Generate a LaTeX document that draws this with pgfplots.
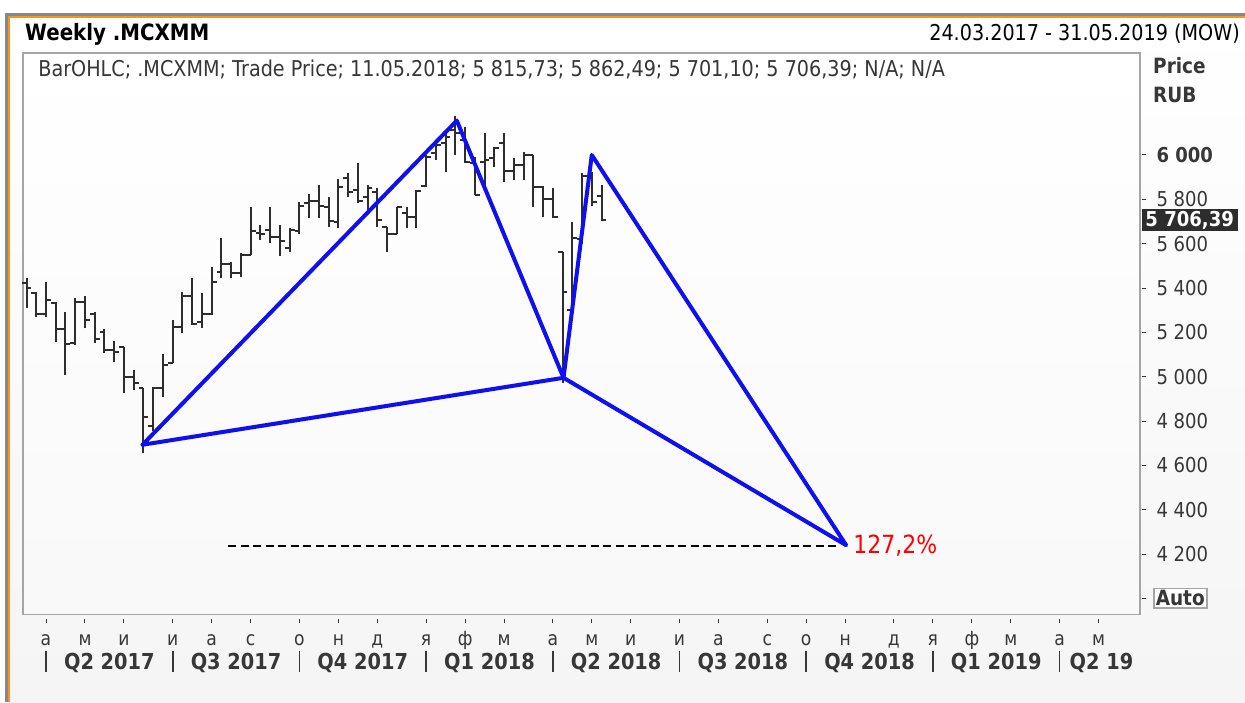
\documentclass[border=0pt]{standalone}
\usepackage{pgfplots}
\pgfplotsset{compat=1.18}
\usepackage{pgfplotstable}
\usepackage{fontspec}
\setmainfont{DejaVu Sans}[FakeStretch=0.88]
\definecolor{frameorange}{RGB}{247,148,29}
\definecolor{framegray}{RGB}{135,135,135}
\definecolor{barcol}{RGB}{45,45,45}
\definecolor{boxgray}{RGB}{165,165,165}
\definecolor{labcol}{RGB}{55,55,55}
\definecolor{patblue}{RGB}{15,15,240}
\tikzset{
  qlab/.style={anchor=base,inner sep=0pt,font=\bfseries\fontsize{22}{26}\selectfont,text=labcol,yshift=-54.5pt},
  qsep/.style={labcol,line width=1.6pt},
}

\pgfplotstableread{
w o h l c
0 5421 5444 5308 5401
1 5379 5383 5270 5283
2 5283 5429 5270 5346
3 5331 5338 5158 5213
4 5213 5293 5007 5147
5 5150 5353 5145 5338
6 5338 5364 5218 5256
7 5285 5293 5150 5168
8 5203 5213 5108 5120
9 5120 5162 5068 5113
10 5135 5135 4928 5000
11 5000 5030 4940 4970
12 4947 4947 4654 4820
13 4778 4952 4757 4947
14 4947 5102 4910 5053
15 5060 5256 5060 5226
16 5226 5383 5195 5364
17 5364 5444 5233 5238
18 5248 5376 5218 5283
19 5283 5496 5278 5429
20 5473 5627 5444 5508
21 5508 5518 5444 5466
22 5466 5556 5451 5549
23 5549 5764 5549 5658
24 5647 5684 5616 5644
25 5662 5764 5601 5632
26 5632 5684 5544 5613
27 5579 5669 5564 5662
28 5658 5789 5644 5770
29 5782 5824 5714 5794
30 5794 5865 5718 5770
31 5767 5812 5674 5702
32 5699 5890 5669 5857
33 5895 5917 5812 5835
34 5842 5965 5782 5794
35 5812 5865 5749 5850
36 5835 5850 5674 5707
37 5674 5677 5564 5644
38 5644 5767 5644 5764
39 5740 5767 5669 5720
40 5722 5842 5669 5839
41 5860 6000 5854 5990
42 6007 6060 5977 6045
43 6053 6098 5925 6083
44 6113 6176 6000 6098
45 6068 6125 5962 5970
46 5962 5990 5820 5820
47 5970 6098 5854 5977
48 5985 6038 5947 6030
49 6053 6098 5880 5929
50 5929 5985 5887 5955
51 5955 6015 5887 6000
52 6000 6000 5767 5854
53 5854 5858 5722 5800
54 5800 5850 5714 5722
55 5564 5564 4970 5380
56 5301 5699 5301 5624
57 5620 5917 5600 5905
58 5905 5925 5770 5789
59 5815.73 5862.49 5701.10 5706.39
}\ohlc

\begin{document}
\begin{tikzpicture}[x=1pt,y=1pt]
\path[use as bounding box] (0,0) rectangle (1245,702);
\fill[white] (0,0) rectangle (1245,702);
\shade[top color=white,bottom color=gray!8] (9.5,0) rectangle (1245,685.5);
\draw[framegray,line width=3pt] (6.5,0) -- (6.5,687.8) -- (1245,687.8);
\draw[frameorange,line width=2pt] (9.3,0) -- (9.3,685.3) -- (1245,685.3);

\node[anchor=base west,inner sep=0pt,font=\bfseries\fontsize{22.5}{26}\selectfont] at (25,661) {Weekly .MCXMM};
\node[anchor=base east,inner sep=0pt,font=\fontsize{21.8}{26}\selectfont] at (1240,661) {24.03.2017 - 31.05.2019 (MOW)};
\node[anchor=base west,inner sep=0pt,font=\bfseries\fontsize{21}{25}\selectfont,text=labcol] at (1153,628) {Price};
\node[anchor=base west,inner sep=0pt,font=\bfseries\fontsize{21}{25}\selectfont,text=labcol] at (1153,599) {RUB};

\begin{axis}[
  name=ax,
  at={(23pt,87.5pt)}, anchor=south west,
  scale only axis, width=1117pt, height=561.5pt,
  xmin=-0.36, xmax=114.25, ymin=3927.4, ymax=6460,
  clip=false,
  axis background/.style={top color=white,bottom color=gray!5},
  axis line style={boxgray,line width=1.5pt},
  tick align=outside,
  major tick length=4pt,
  xtick pos=bottom, ytick pos=right, yticklabel pos=right,
  xtick={2,6,10,15,19,23,28,32,36,41,45,49,54,58,62,67,71,76,80,84,89,93,97,101,106,110},
  xticklabels={а,м,и,и,а,с,о,н,д,я,ф,м,а,м,и,и,а,с,о,н,д,я,ф,м,а,м},
  x tick style={labcol,line width=1pt,yshift=-4pt},
  xticklabel style={font=\fontsize{19.5}{22}\selectfont,text=labcol,anchor=base,text height=10pt,text depth=4pt,yshift=-27pt},
  ytick={4000,4200,4400,4600,4800,5000,5200,5400,5600,5800,6000},
  yticklabels={,4 200,4 400,4 600,4 800,5 000,5 200,5 400,5 600,5 800,\textbf{6 000}},
  y tick style={labcol,line width=1pt,xshift=2pt},
  yticklabel style={font=\fontsize{20.5}{24}\selectfont,text=labcol,anchor=west,xshift=9pt},
]
% OHLC bars
\addplot[barcol,line width=2pt,-,quiver={u=0,v=\thisrow{h}-\thisrow{l}}] table[x=w,y=l] {\ohlc};
\addplot[barcol,line width=2pt,-,quiver={u=-0.5,v=0}] table[x=w,y=o] {\ohlc};
\addplot[barcol,line width=2pt,-,quiver={u=0.5,v=0}] table[x=w,y=c] {\ohlc};
% harmonic pattern
\addplot[patblue,line width=4pt,line join=round,line cap=round] coordinates {(11.9,4693) (44.15,6155) (55.1,4995) (58,6000) (84.1,4240) (55.1,4995) (11.9,4693)};
% 127.2% level
\addplot[black,line width=1.3pt,dash pattern=on 8pt off 4.5pt] coordinates {(20.7,4237) (83.4,4237)};
\node[anchor=west,text=red,font=\fontsize{25}{29}\selectfont,inner sep=0pt] at (axis cs:84.1,4237) [xshift=7pt] {127,2\%};
% legend line
\node[anchor=base west,inner sep=0pt,font=\fontsize{21.8}{26}\selectfont,text=labcol] at (axis cs:1.2,6460) [yshift=-24pt] {BarOHLC; .MCXMM; Trade Price; 11.05.2018; 5 815,73; 5 862,49; 5 701,10; 5 706,39; N/A; N/A};
% quarter separators and labels
\draw[qsep] ([yshift=-36pt]axis cs:2,3927.4) -- ([yshift=-57pt]axis cs:2,3927.4);
\draw[qsep] ([yshift=-36pt]axis cs:15,3927.4) -- ([yshift=-57pt]axis cs:15,3927.4);
\draw[qsep] ([yshift=-36pt]axis cs:28,3927.4) -- ([yshift=-57pt]axis cs:28,3927.4);
\draw[qsep] ([yshift=-36pt]axis cs:41,3927.4) -- ([yshift=-57pt]axis cs:41,3927.4);
\draw[qsep] ([yshift=-36pt]axis cs:54,3927.4) -- ([yshift=-57pt]axis cs:54,3927.4);
\draw[qsep] ([yshift=-36pt]axis cs:67,3927.4) -- ([yshift=-57pt]axis cs:67,3927.4);
\draw[qsep] ([yshift=-36pt]axis cs:80,3927.4) -- ([yshift=-57pt]axis cs:80,3927.4);
\draw[qsep] ([yshift=-36pt]axis cs:93,3927.4) -- ([yshift=-57pt]axis cs:93,3927.4);
\draw[qsep] ([yshift=-36pt]axis cs:106,3927.4) -- ([yshift=-57pt]axis cs:106,3927.4);
\node[qlab] at (axis cs:8.5,3927.4) {Q2 2017};
\node[qlab] at (axis cs:21.5,3927.4) {Q3 2017};
\node[qlab] at (axis cs:34.5,3927.4) {Q4 2017};
\node[qlab] at (axis cs:47.5,3927.4) {Q1 2018};
\node[qlab] at (axis cs:60.5,3927.4) {Q2 2018};
\node[qlab] at (axis cs:73.5,3927.4) {Q3 2018};
\node[qlab] at (axis cs:86.5,3927.4) {Q4 2018};
\node[qlab] at (axis cs:99.5,3927.4) {Q1 2019};
\node[qlab] at (axis cs:110.3,3927.4) {Q2 19};
\coordinate (pr) at (axis cs:114.25,5706.39);
\coordinate (au) at (axis cs:114.25,4000);
\end{axis}
\node[anchor=west,fill=barcol,text=white,font=\bfseries\fontsize{20.5}{24}\selectfont,inner sep=0pt,minimum height=22pt,minimum width=96pt] at ([xshift=1.5pt]pr) {5 706,39};
\node[anchor=west,draw=boxgray,line width=1.5pt,fill=white,text=labcol,font=\bfseries\fontsize{21}{25}\selectfont,inner sep=2pt] at ([xshift=13pt]au) {Auto};
\end{tikzpicture}
\end{document}
